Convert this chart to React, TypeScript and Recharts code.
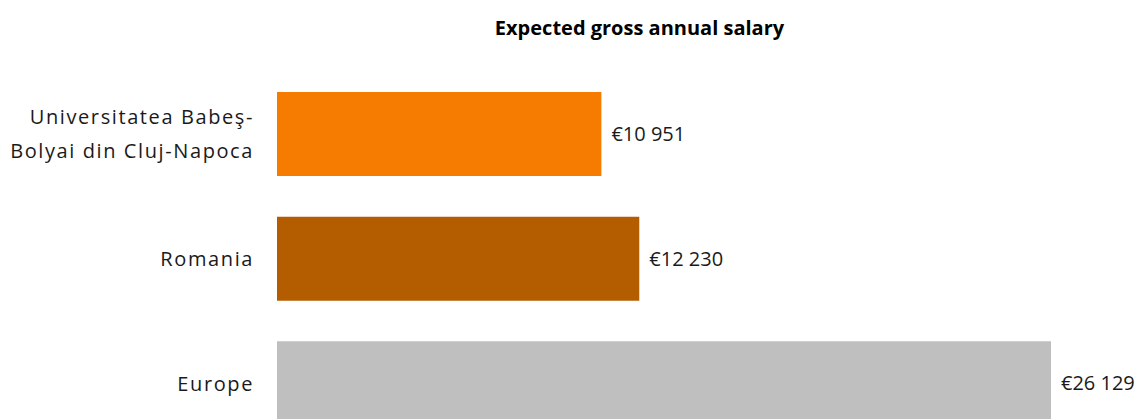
import { BarChart, Bar, XAxis, YAxis, Cell, LabelList } from "recharts";

const categories = ["Universitatea Babeş-\nBolyai din Cluj-Napoca", "Romania", "Europe"];
const salaries = [10951, 12230, 26129];

const barColors = ["#F57C00", "#B35C00", "#BFBFBF"];

const data = categories.map((name, i) => ({ name, salary: salaries[i] }));

const FONT = "'Open Sans', sans-serif";

const fmt = (v: number) => "€" + String(v).replace(/\B(?=(\d{3})+(?!\d))/g, " ");

function CategoryTick(props: any) {
  const { x, y, payload } = props;
  const lines = String(payload.value).split("\n");
  const lh = 34;
  const start = -((lines.length - 1) * lh) / 2;
  return (
    <text
      x={x}
      y={y}
      textAnchor="end"
      fill="#1a1a1a"
      fontFamily={FONT}
      fontSize={20}
      letterSpacing={1.6}
    >
      {lines.map((l, i) => (
        <tspan key={i} x={x} y={y + start + i * lh} dy="0.35em">
          {l}
        </tspan>
      ))}
    </text>
  );
}

export default function App() {
  return (
    <div
      style={{
        position: "absolute",
        left: 0,
        top: 0,
        width: 1141,
        height: 419,
        overflow: "hidden",
        background: "#fff",
      }}
    >
      <div
        style={{
          position: "absolute",
          left: 0,
          width: 1279,
          top: 14,
          textAlign: "center",
          fontFamily: FONT,
          fontWeight: 700,
          fontSize: 20,
          color: "#000",
        }}
      >
        Expected gross annual salary
      </div>
      <BarChart
        width={1141}
        height={460}
        data={data}
        layout="vertical"
        margin={{ top: 72, right: 90, bottom: 14, left: 0 }}
      >
        <XAxis type="number" domain={[0, 26129]} hide />
        <YAxis
          type="category"
          dataKey="name"
          width={277}
          axisLine={false}
          tickLine={false}
          tickMargin={17}
          tick={<CategoryTick />}
          interval={0}
        />
        <Bar dataKey="salary" barSize={84} isAnimationActive={false}>
          {data.map((_, i) => (
            <Cell key={i} fill={barColors[i]} />
          ))}
          <LabelList
            dataKey="salary"
            position="right"
            offset={10}
            formatter={(v: any) => fmt(Number(v))}
            style={{ fontFamily: FONT, fontSize: 20, fill: "#1a1a1a" }}
          />
        </Bar>
      </BarChart>
    </div>
  );
}
